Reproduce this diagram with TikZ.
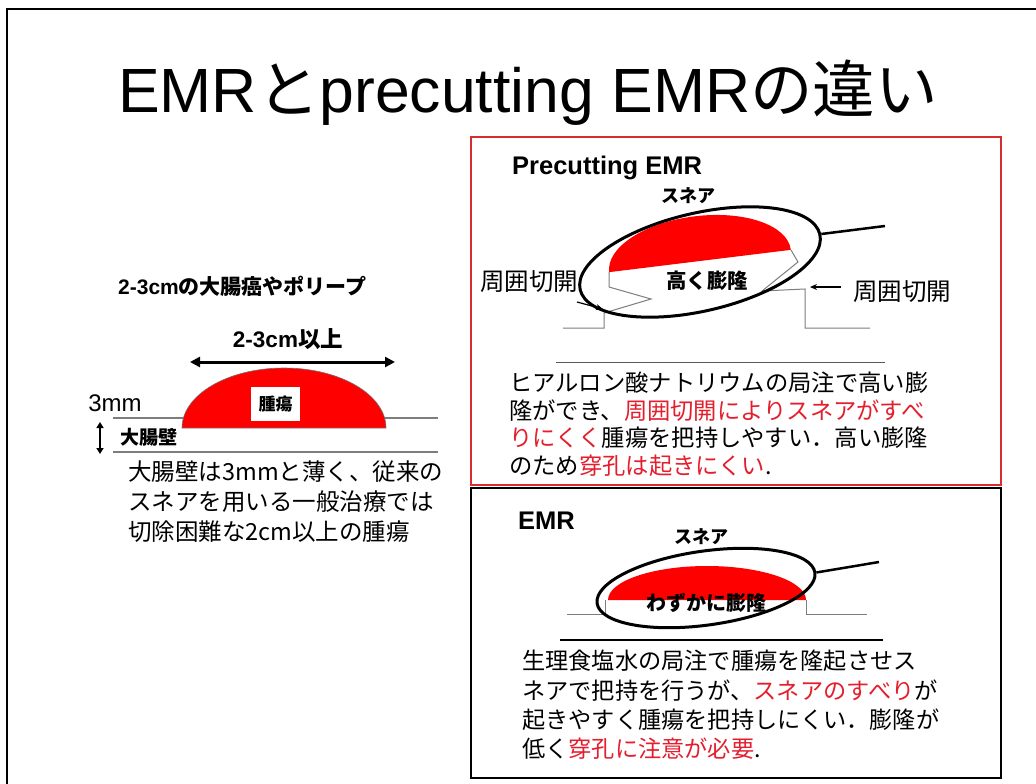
\documentclass[tikz,border=0pt]{standalone}
\usepackage{fontspec}
\setmainfont{Liberation Sans}
\newfontfamily\jp{Noto Sans CJK JP}
\usetikzlibrary{arrows.meta,shapes.geometric}
\definecolor{tumor}{RGB}{255,0,0}
\definecolor{alert}{RGB}{228,30,45}
\definecolor{framered}{RGB}{215,45,45}
\definecolor{wall}{RGB}{125,125,125}
\newcommand\fs[1]{\fontsize{#1}{#1}\selectfont}
\newcommand\hl[1]{\textcolor{alert}{#1}}

\begin{document}
\begin{tikzpicture}[x=1pt,y=-1pt,
  txt/.style={inner sep=0pt, anchor=west},
  lbl/.style={inner sep=0pt},
  snare/.style={draw=black, line width=3pt, ellipse, inner sep=0pt},
  wallline/.style={draw=wall, line width=1pt},
  mucosa/.style={draw=wall, line width=2pt},
  handle/.style={draw=black, line width=2.5pt},
  pointer/.style={draw=black, line width=1.2pt, -{Stealth[length=7pt,width=6pt]}},
  dbl/.style={draw=black, line width=3pt, {Triangle[length=10pt,width=10pt]}-{Triangle[length=10pt,width=10pt]}},
  smalldbl/.style={draw=black, line width=2pt, {Triangle[length=6pt,width=7pt]}-{Triangle[length=6pt,width=7pt]}}
]
\useasboundingbox (0,0) rectangle (1036,784);
\fill[white] (0,0) rectangle (1036,784);

% slide frame
\draw[line width=2.5pt] (7,784) -- (7,9) -- (1036,9);

% title
\node[lbl, anchor=base] (title) at (528,112) {\fs{62.5}EMR{\jp と}precutting EMR{\jp の違い}};

% ---------- left: colon wall and tumour ----------
\node[txt] (size) at (118,286) {\fs{21}\bfseries 2-3cm{\jp の大腸癌やポリープ}};
\node[lbl] (span) at (288,339) {\fs{22.5}\bfseries 2-3cm{\jp 以上}};
\coordinate (spanL) at (190,362);
\coordinate (spanR) at (395,362);
\draw[dbl] (spanL) -- (spanR);

\draw[mucosa] (113,418) -- (438,418);
\draw[mucosa] (113,452) -- (438,452);
\fill[tumor, draw=black!55, line width=0.6pt] (182,428)
  arc[start angle=180, end angle=360, x radius=102, y radius=60] -- cycle;
\node[fill=white, minimum width=49pt, minimum height=34pt, inner sep=0pt] (tumorlbl)
  at (275.5,404) {\fs{17}\bfseries\jp 腫瘍};

\node[lbl] (thick) at (115,403) {\fs{24}3mm};
\coordinate (wtop) at (100,422);
\coordinate (wbot) at (100,454);
\draw[smalldbl] (wtop) -- (wbot);
\node[txt] (wallname) at (120,437) {\fs{19}\bfseries\jp 大腸壁};

\node[txt] (d1) at (128,472) {\fs{23.5}\jp 大腸壁は3mmと薄く、従来の};
\node[txt] (d2) at (128,502) {\fs{23.5}\jp スネアを用いる一般治療では};
\node[txt] (d3) at (128,532) {\fs{23.5}\jp 切除困難な2cm以上の腫瘍};

% ---------- precutting EMR ----------
\draw[framered, line width=2pt] (471,137) rectangle (1001,485);
\node[txt] (ptitle) at (512,168) {\fs{25.5}\bfseries Precutting EMR};
\node[lbl] (psnarelbl) at (688,196) {\fs{18}\bfseries\jp スネア};

\begin{scope}[shift={(700,261)}, rotate=7]
  \fill[tumor] (-91.5,0) arc[start angle=180, end angle=360, x radius=91.5, y radius=45] -- cycle;
\end{scope}
\draw[wallline] (609,272) -- (609,287) -- (651,299) -- (604,313) -- (604,328) -- (563,328);
\draw[wallline] (791,250) -- (798,262) -- (762,291) -- (805,289) -- (805,328) -- (870,328);

\node[snare, minimum width=246pt, minimum height=98pt, rotate=13] (psnare) at (700,262) {};
\coordinate (phandle) at (885,226);
\draw[handle] (psnare.east) -- (phandle);

\node[lbl] (prise) at (707,281) {\fs{20.5}\bfseries\jp 高く膨隆};

\node[lbl] (lcut) at (529,282) {\fs{24.5}\jp 周囲切開};
\node[lbl] (rcut) at (902,292) {\fs{24.5}\jp 周囲切開};
\coordinate (lcutA) at (577,302);
\coordinate (lcutB) at (603,309);
\draw[pointer] (lcutA) -- (lcutB);
\coordinate (rcutA) at (841,287);
\coordinate (rcutB) at (810,287);
\draw[pointer] (rcutA) -- (rcutB);

\coordinate (psepL) at (556,362);
\coordinate (psepR) at (885,362);
\draw[draw=black!65, line width=1pt] (psepL) -- (psepR);

\node[txt] (p1) at (509,383) {\fs{23.3}\jp ヒアルロン酸ナトリウムの局注で高い膨};
\node[txt] (p2) at (509,411) {\fs{23.3}\jp 隆ができ、\hl{周囲切開によりスネアがすべ}};
\node[txt] (p3) at (509,438) {\fs{23.3}\jp \hl{りにくく}腫瘍を把持しやすい．高い膨隆};
\node[txt] (p4) at (509,466) {\fs{23.3}\jp のため\hl{穿孔は起きにくい}.};

% ---------- conventional EMR ----------
\draw[black, line width=2.5pt] (471,488) rectangle (1001,778);
\node[txt] (etitle) at (518,521) {\fs{25.5}\bfseries EMR};
\node[lbl] (esnarelbl) at (701,537) {\fs{18}\bfseries\jp スネア};

\fill[tumor] (608,600) arc[start angle=180, end angle=360, x radius=99, y radius=34] -- cycle;
\draw[wallline] (605,600) -- (605,614) -- (567,614);
\draw[wallline] (806,600) -- (806,614) -- (867,614);

\node[snare, minimum width=220pt, minimum height=74pt, rotate=8] (esnare) at (706,588) {};
\coordinate (ehandle) at (879,562);
\draw[handle] (esnare.east) -- (ehandle);

\node[lbl] (erise) at (706,603) {\fs{20}\bfseries\jp わずかに膨隆};

\coordinate (esepL) at (560,640);
\coordinate (esepR) at (883,640);
\draw[draw=black, line width=1.5pt] (esepL) -- (esepR);

\node[txt] (e1) at (522,661) {\fs{23.2}\jp 生理食塩水の局注で腫瘍を隆起させス};
\node[txt] (e2) at (522,691) {\fs{23.2}\jp ネアで把持を行うが、\hl{スネアのすべり}が};
\node[txt] (e3) at (522,720) {\fs{23.2}\jp 起きやすく腫瘍を把持しにくい．膨隆が};
\node[txt] (e4) at (522,749) {\fs{23.2}\jp 低く\hl{穿孔に注意が必要}.};
\end{tikzpicture}
\end{document}
